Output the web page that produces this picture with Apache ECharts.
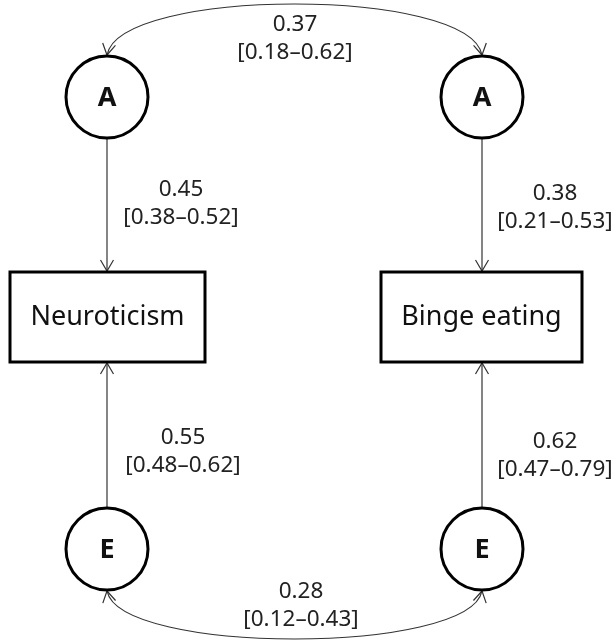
<!DOCTYPE html>
<html>
<head>
<meta charset="utf-8">
<script src="https://cdn.jsdelivr.net/npm/echarts@6/dist/echarts.min.js"></script>
<style>html,body{margin:0;padding:0;background:#fff}#c{width:613px;height:641px}</style>
</head>
<body>
<div id="c"></div>
<script>
// ---- data ----
const latentNames = ['A', 'A', 'E', 'E'];
const observedNames = ['Neuroticism', 'Binge eating'];
const pathEst = [0.45, 0.38, 0.55, 0.62];
const pathLower = [0.38, 0.21, 0.48, 0.47];
const pathUpper = [0.52, 0.53, 0.62, 0.79];
const corrEst = [0.37, 0.28];
const corrLower = [0.18, 0.12];
const corrUpper = [0.62, 0.43];

// ---- layout (positions, in chart units) ----
const LAYOUT = {
  latent: [[107, 97], [482, 97], [107, 549], [482, 549]],
  radius: 41,
  boxes: [[10, 272, 195, 90], [381, 272, 201, 90]],
  paths: [
    { from: 0, box: 0, side: 'top', label: [181, 190] },
    { from: 1, box: 1, side: 'top', label: [555, 194] },
    { from: 2, box: 0, side: 'bottom', label: [183, 438] },
    { from: 3, box: 1, side: 'bottom', label: [555, 442] }
  ],
  corrs: [
    { a: 0, b: 1, dir: -1, bulge: 68, label: [295, 25] },
    { a: 2, b: 3, dir: 1, bulge: 64, label: [301, 592] }
  ]
};
const LINE = '#333';
const TEXT = '#222';
const FONT = '"Noto Sans", sans-serif';
const NUM_SIZE = 22.5;
const fmt = v => v.toFixed(2);

function arrowHead(tip, from, len, hw) {
  len = len || 11; hw = hw || 6.5;
  const dx = tip[0] - from[0], dy = tip[1] - from[1];
  const n = Math.sqrt(dx * dx + dy * dy) || 1;
  const ux = dx / n, uy = dy / n;
  const bx = tip[0] - ux * len, by = tip[1] - uy * len;
  const px = -uy, py = ux;
  return {
    type: 'polyline',
    shape: { points: [[bx + px * hw, by + py * hw], tip, [bx - px * hw, by - py * hw]] },
    style: { stroke: LINE, lineWidth: 1.2, fill: null }
  };
}
function labelPair(c, est, lo, hi) {
  return [
    { type: 'text', style: { text: fmt(est), x: c[0], y: c[1], align: 'center', verticalAlign: 'middle', fontSize: NUM_SIZE, fontFamily: FONT, fill: TEXT } },
    { type: 'text', style: { text: '[' + fmt(lo) + '\u2013' + fmt(hi) + ']', x: c[0], y: c[1] + 28, align: 'center', verticalAlign: 'middle', fontSize: NUM_SIZE, fontFamily: FONT, fill: TEXT } }
  ];
}

const chart = echarts.init(document.getElementById('c'), null, { renderer: 'canvas' });

const latentSeries = {
  type: 'custom', coordinateSystem: 'cartesian2d', clip: false, silent: true,
  data: latentNames.map((n, i) => [i]),
  renderItem: function (params, api) {
    const i = params.dataIndex;
    const c = api.coord(LAYOUT.latent[i]);
    const r = api.size([LAYOUT.radius, 0])[0];
    return {
      type: 'group', children: [
        { type: 'circle', shape: { cx: c[0], cy: c[1], r: r }, style: { fill: '#fff', stroke: '#000', lineWidth: 3 } },
        { type: 'text', style: { text: latentNames[i], x: c[0], y: c[1] + 1, align: 'center', verticalAlign: 'middle', fontSize: 27, fontWeight: 'bold', fontFamily: FONT, fill: '#111' } }
      ]
    };
  }
};

const boxSeries = {
  type: 'custom', coordinateSystem: 'cartesian2d', clip: false, silent: true,
  data: observedNames.map((n, i) => [i]),
  renderItem: function (params, api) {
    const i = params.dataIndex;
    const b = LAYOUT.boxes[i];
    const p0 = api.coord([b[0], b[1]]);
    const p1 = api.coord([b[0] + b[2], b[1] + b[3]]);
    return {
      type: 'group', children: [
        { type: 'rect', shape: { x: p0[0], y: p0[1], width: p1[0] - p0[0], height: p1[1] - p0[1] }, style: { fill: '#fff', stroke: '#000', lineWidth: 3 } },
        { type: 'text', style: { text: observedNames[i], x: (p0[0] + p1[0]) / 2, y: (p0[1] + p1[1]) / 2, align: 'center', verticalAlign: 'middle', fontSize: 27, fontFamily: FONT, fill: '#111' } }
      ]
    };
  }
};

const pathSeries = {
  type: 'custom', coordinateSystem: 'cartesian2d', clip: false, silent: true,
  data: pathEst.map((v, i) => [i, v]),
  renderItem: function (params, api) {
    const i = params.dataIndex;
    const p = LAYOUT.paths[i];
    const lc = LAYOUT.latent[p.from];
    const b = LAYOUT.boxes[p.box];
    let startY, endY;
    if (p.side === 'top') { startY = lc[1] + LAYOUT.radius; endY = b[1] - 1; }
    else { startY = lc[1] - LAYOUT.radius; endY = b[1] + b[3] + 1; }
    const s = api.coord([lc[0], startY]);
    const e = api.coord([lc[0], endY]);
    const children = [
      { type: 'line', shape: { x1: s[0], y1: s[1], x2: e[0], y2: e[1] }, style: { stroke: LINE, lineWidth: 1.2 } },
      arrowHead(e, s)
    ];
    const lp = api.coord(p.label);
    return { type: 'group', children: children.concat(labelPair(lp, pathEst[i], pathLower[i], pathUpper[i])) };
  }
};

const corrSeries = {
  type: 'custom', coordinateSystem: 'cartesian2d', clip: false, silent: true,
  data: corrEst.map((v, i) => [i, v]),
  renderItem: function (params, api) {
    const i = params.dataIndex;
    const c = LAYOUT.corrs[i];
    const A = LAYOUT.latent[c.a], B = LAYOUT.latent[c.b];
    const ya = A[1] + c.dir * (LAYOUT.radius + 1);
    const yb = B[1] + c.dir * (LAYOUT.radius + 1);
    const cy = ya + c.dir * c.bulge;
    const s = api.coord([A[0], ya]);
    const e = api.coord([B[0], yb]);
    const c1 = api.coord([A[0] + 13, cy]);
    const c2 = api.coord([B[0] - 13, cy]);
    const children = [
      { type: 'bezierCurve', shape: { x1: s[0], y1: s[1], x2: e[0], y2: e[1], cpx1: c1[0], cpy1: c1[1], cpx2: c2[0], cpy2: c2[1] }, style: { stroke: LINE, lineWidth: 1.2, fill: null } },
      arrowHead(s, c1),
      arrowHead(e, c2)
    ];
    const lp = api.coord(c.label);
    return { type: 'group', children: children.concat(labelPair(lp, corrEst[i], corrLower[i], corrUpper[i])) };
  }
};

chart.setOption({
  animation: false,
  backgroundColor: '#fff',
  grid: { left: 0, right: 0, top: 0, bottom: 0 },
  xAxis: { type: 'value', min: 0, max: 613, show: false },
  yAxis: { type: 'value', min: 0, max: 641, inverse: true, show: false },
  series: [corrSeries, pathSeries, boxSeries, latentSeries]
});
</script>
</body>
</html>
